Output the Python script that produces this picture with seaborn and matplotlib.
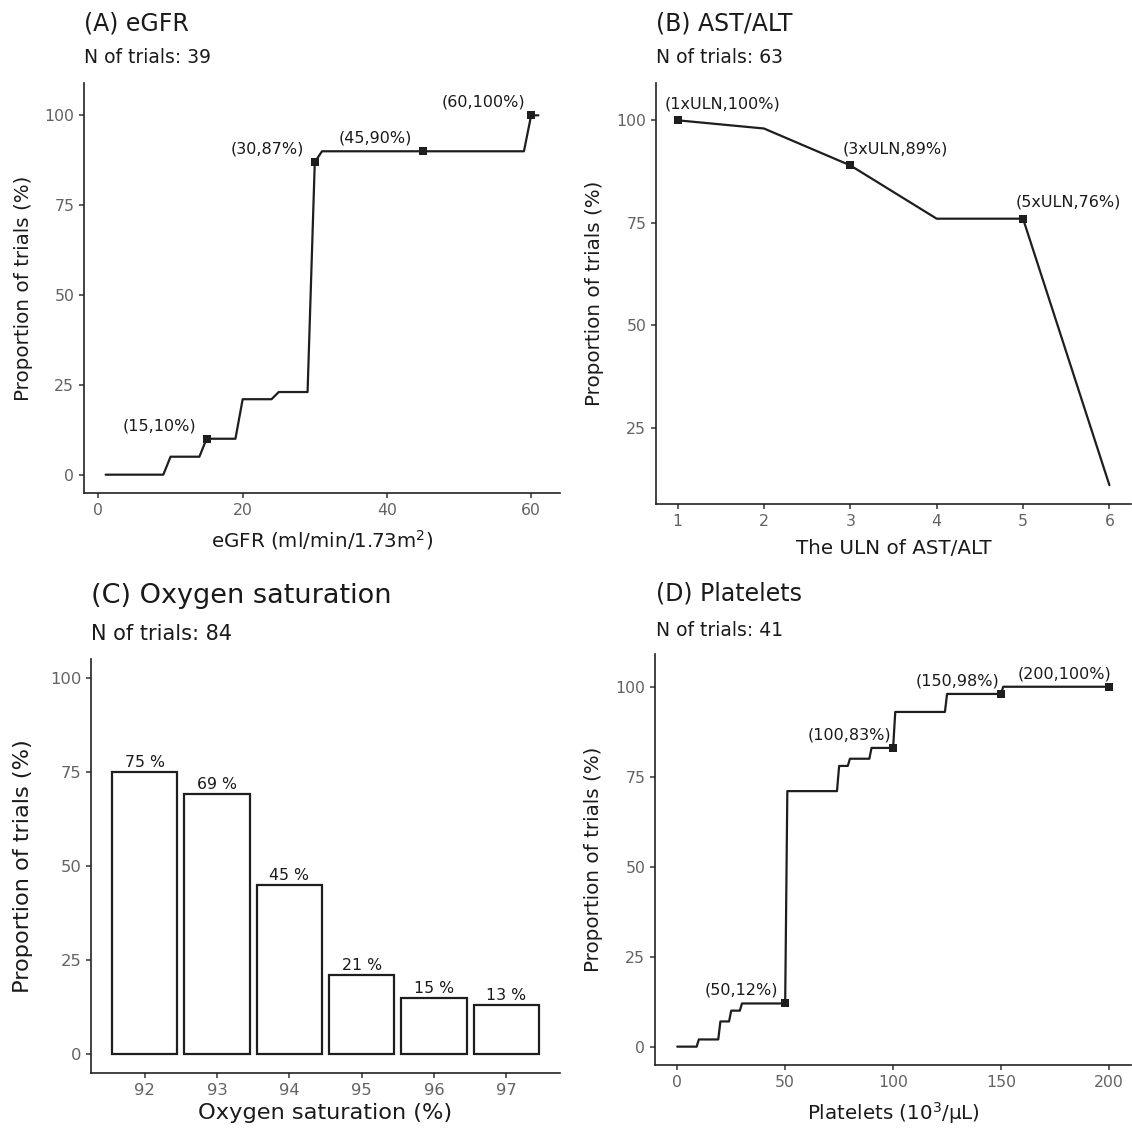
import matplotlib
matplotlib.use("Agg")
import matplotlib.pyplot as plt
import seaborn as sns
import pandas as pd

# (A) eGFR threshold curve
egfr_x = [1, 9, 10, 14, 15, 19, 20, 24, 25, 29, 30, 31, 59, 60, 61]
egfr_y = [0, 0, 5, 5, 10, 10, 21, 21, 23, 23, 87, 90, 90, 100, 100]
egfr_mark_x = [15, 30, 45, 60]
egfr_mark_y = [10, 87, 90, 100]
egfr_labels = ["(15,10%)", "(30,87%)", "(45,90%)", "(60,100%)"]

# (B) AST/ALT
ast_x = [1, 2, 3, 4, 5, 6]
ast_y = [100, 98, 89, 76, 76, 11]
ast_mark_x = [1, 3, 5]
ast_mark_y = [100, 89, 76]
ast_labels = ["(1xULN,100%)", "(3xULN,89%)", "(5xULN,76%)"]

# (C) Oxygen saturation
o2_levels = ["92", "93", "94", "95", "96", "97"]
o2_pct = [75, 69, 45, 21, 15, 13]

# (D) Platelets
plt_x = [0, 9, 10, 19, 20, 24, 25, 29, 30, 50, 51, 74, 75, 79, 80, 89, 90,
         100, 101, 124, 125, 150, 151, 200]
plt_y = [0, 0, 2, 2, 7, 7, 10, 10, 12, 12, 71, 71, 78, 78, 80, 80, 83,
         83, 93, 93, 98, 98, 100, 100]
plt_mark_x = [50, 100, 150, 200]
plt_mark_y = [12, 83, 98, 100]
plt_labels = ["(50,12%)", "(100,83%)", "(150,98%)", "(200,100%)"]

n_trials = {"A": 39, "B": 63, "C": 84, "D": 41}

sns.set_theme(style="ticks")
plt.rcParams["font.family"] = ["DejaVu Sans"]
plt.rcParams["axes.edgecolor"] = "#222222"
plt.rcParams["axes.linewidth"] = 1.2
plt.rcParams["xtick.color"] = "#333333"
plt.rcParams["ytick.color"] = "#333333"
plt.rcParams["xtick.labelcolor"] = "#636363"
plt.rcParams["ytick.labelcolor"] = "#636363"
plt.rcParams["xtick.major.size"] = 3.5
plt.rcParams["ytick.major.size"] = 3.5
plt.rcParams["xtick.major.width"] = 1.1
plt.rcParams["ytick.major.width"] = 1.1

W, H = 1132, 1129
fig = plt.figure(figsize=(W / 100, H / 100), dpi=100)


def box(l, t, r, b):
    return [l / W, 1 - b / H, (r - l) / W, (b - t) / H]


axA = fig.add_axes(box(84, 83, 560, 493))
axB = fig.add_axes(box(656, 83, 1131, 504))
axC = fig.add_axes(box(91, 659, 560, 1073))
axD = fig.add_axes(box(655, 654, 1131, 1065))

LC = "#1e1e1e"
TC = "#1a1a1a"


def curve(ax, x, y, mx, my, labels, dx, dy):
    sns.lineplot(x=x, y=y, ax=ax, color=LC, linewidth=1.6, estimator=None, sort=False)
    sns.scatterplot(x=mx, y=my, ax=ax, color=LC, marker="s", s=26, linewidth=0, zorder=3)
    for xx, yy, lab in zip(mx, my, labels):
        ax.annotate(lab, (xx, yy), xytext=(dx, dy), textcoords="offset points",
                    ha="center", va="center", fontsize=11.5, color=TC)


curve(axA, egfr_x, egfr_y, egfr_mark_x, egfr_mark_y, egfr_labels, -34, 9.5)
axA.set_xlim(-2, 64)
axA.set_ylim(-5.1, 109)
axA.set_xticks([0, 20, 40, 60])
axA.set_yticks([0, 25, 50, 75, 100])
axA.set_xlabel("eGFR (ml/min/1.73m$^2$)", fontsize=14.3, color=TC, labelpad=7.5)
axA.set_ylabel("Proportion of trials (%)", fontsize=14.3, color=TC, labelpad=8.5)

curve(axB, ast_x, ast_y, ast_mark_x, ast_mark_y, ast_labels, 32.5, 12)
axB.set_xlim(0.75, 6.25)
axB.set_ylim(6.4, 109.1)
axB.set_xticks([1, 2, 3, 4, 5, 6])
axB.set_yticks([25, 50, 75, 100])
axB.set_xlabel("The ULN of AST/ALT", fontsize=14.3, color=TC, labelpad=7.5)
axB.set_ylabel("Proportion of trials (%)", fontsize=14.3, color=TC, labelpad=9)

df_o2 = pd.DataFrame({"level": o2_levels, "pct": o2_pct})
sns.barplot(data=df_o2, x="level", y="pct", ax=axC, color="white", saturation=1,
            edgecolor=LC, linewidth=1.6, width=0.9, errorbar=None)
for i, v in enumerate(o2_pct):
    axC.annotate(f"{v} %", (i, v), xytext=(0, 1.5), textcoords="offset points",
                 ha="center", va="bottom", fontsize=11.3, color=TC)
axC.set_xlim(-0.74, 5.74)
axC.set_ylim(-5, 105)
axC.set_yticks([0, 25, 50, 75, 100])
axC.set_xlabel("Oxygen saturation (%)", fontsize=16.2, color=TC)
axC.set_ylabel("Proportion of trials (%)", fontsize=16.2, color=TC, labelpad=12)

curve(axD, plt_x, plt_y, plt_mark_x, plt_mark_y, plt_labels, -31.7, 9.5)
axD.set_xlim(-10.3, 210.2)
axD.set_ylim(-5.1, 109.1)
axD.set_xticks([0, 50, 100, 150, 200])
axD.set_yticks([0, 25, 50, 75, 100])
axD.set_xlabel("Platelets (10$^3$/\u03bcL)", fontsize=14.3, color=TC, labelpad=7.5)
axD.set_ylabel("Proportion of trials (%)", fontsize=14.3, color=TC, labelpad=9)

for ax in (axA, axB, axC, axD):
    sns.despine(ax=ax)
    ax.tick_params(labelsize=11.3)
axC.tick_params(labelsize=11.8)

# titles and subtitles
fig.text(84 / W, 1 - 30 / H, "(A) eGFR", fontsize=17, color=TC, va="baseline")
fig.text(84 / W, 1 - 63 / H, f"N of trials: {n_trials['A']}", fontsize=13.5, color=TC, va="baseline")
fig.text(656 / W, 1 - 30 / H, "(B) AST/ALT", fontsize=17, color=TC, va="baseline")
fig.text(656 / W, 1 - 63 / H, f"N of trials: {n_trials['B']}", fontsize=13.5, color=TC, va="baseline")
fig.text(91 / W, 1 - 603 / H, "(C) Oxygen saturation", fontsize=19.5, color=TC, va="baseline")
fig.text(91 / W, 1 - 640 / H, f"N of trials: {n_trials['C']}", fontsize=15, color=TC, va="baseline")
fig.text(656 / W, 1 - 600 / H, "(D) Platelets", fontsize=17, color=TC, va="baseline")
fig.text(656 / W, 1 - 636 / H, f"N of trials: {n_trials['D']}", fontsize=13.5, color=TC, va="baseline")

fig.savefig("out.png", dpi=100)
